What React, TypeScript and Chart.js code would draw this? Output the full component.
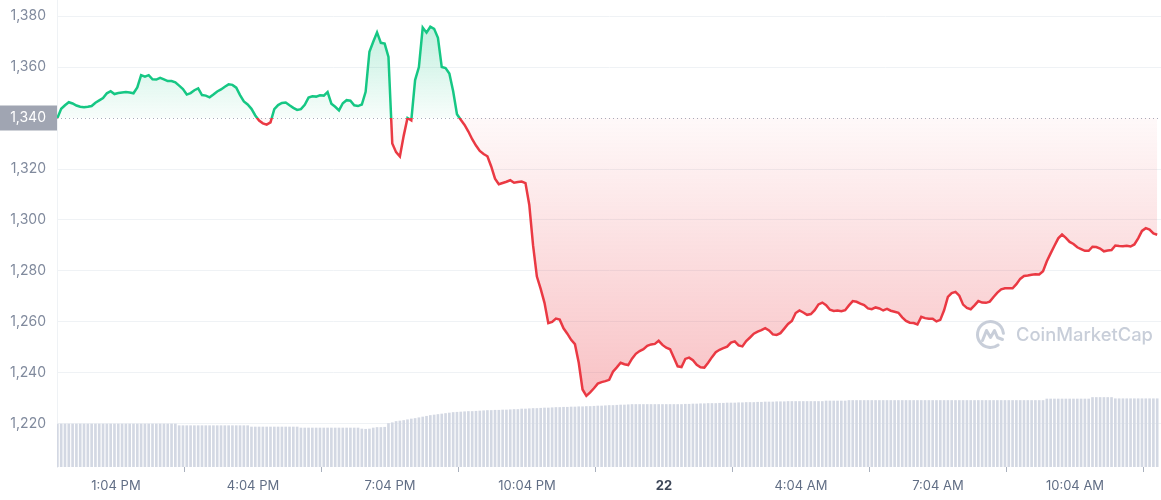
import React, { useEffect, useRef } from 'react';
import { Chart, registerables } from 'chart.js';

Chart.register(...registerables);

// ---- data ----
const START_MINUTE = 707; // 11:47 AM (minutes since midnight of the 21st)
const STEP_MINUTES = 5;
const BASE_PRICE = 1340;

const PRICES = [
  1340.0, 1343.6, 1345.0, 1346.2, 1345.7, 1344.9, 1344.4, 1344.2, 1344.4, 1344.7,
  1346.0, 1346.9, 1347.8, 1349.7, 1350.5, 1349.4, 1349.8, 1350.0, 1350.2, 1350.0,
  1349.7, 1352.0, 1356.8, 1356.2, 1356.8, 1355.2, 1355.1, 1355.8, 1355.2, 1354.5,
  1354.5, 1354.0, 1352.7, 1351.4, 1349.2, 1349.8, 1350.9, 1351.6, 1349.0, 1348.8,
  1348.1, 1349.2, 1350.4, 1351.2, 1352.3, 1353.2, 1353.0, 1351.9, 1349.0, 1346.5,
  1345.3, 1343.6, 1341.0, 1339.0, 1337.9, 1337.4, 1338.3, 1343.5, 1345.1, 1345.9,
  1346.1, 1345.0, 1344.0, 1343.2, 1343.5, 1345.2, 1348.0, 1348.5, 1348.4, 1348.9,
  1348.8, 1350.2, 1345.6, 1344.4, 1343.0, 1345.8, 1347.0, 1346.8, 1345.0, 1344.7,
  1345.3, 1350.3, 1366.0, 1369.9, 1373.6, 1369.5, 1369.2, 1364.0, 1330.0, 1326.6,
  1324.9, 1333.0, 1340.0, 1339.1, 1354.9, 1360.0, 1375.5, 1373.5, 1375.8, 1375.0,
  1371.5, 1360.0, 1359.6, 1357.5, 1350.5, 1341.5, 1339.3, 1337.3, 1334.7, 1331.7,
  1329.2, 1327.1, 1325.9, 1325.0, 1321.0, 1316.2, 1314.0, 1314.5, 1315.0, 1315.6,
  1314.6, 1314.9, 1315.1, 1314.5, 1306.0, 1290.0, 1277.8, 1273.0, 1267.5, 1259.5,
  1260.0, 1261.3, 1260.9, 1257.5, 1255.4, 1253.0, 1251.3, 1244.0, 1233.5, 1231.0,
  1232.4, 1234.0, 1235.8, 1236.4, 1236.8, 1237.3, 1240.5, 1242.2, 1244.0, 1243.4,
  1243.1, 1245.6, 1247.5, 1248.6, 1249.3, 1250.6, 1251.2, 1251.4, 1252.6, 1251.0,
  1249.9, 1249.3, 1246.0, 1242.6, 1242.3, 1245.5, 1246.0, 1245.0, 1243.2, 1242.2,
  1242.1, 1244.0, 1246.2, 1248.1, 1249.1, 1249.7, 1250.3, 1251.9, 1252.4, 1250.8,
  1250.4, 1252.5, 1253.9, 1255.4, 1256.2, 1256.8, 1257.6, 1256.7, 1255.1, 1254.9,
  1255.6, 1257.4, 1259.2, 1260.4, 1263.5, 1264.5, 1263.7, 1262.8, 1263.1, 1264.6,
  1266.9, 1267.6, 1266.6, 1264.8, 1264.3, 1264.5, 1264.2, 1264.6, 1266.5, 1268.2,
  1267.9, 1267.2, 1266.6, 1265.3, 1265.0, 1265.7, 1265.3, 1264.5, 1265.1, 1264.4,
  1264.0, 1263.6, 1261.8, 1260.4, 1259.7, 1259.6, 1259.0, 1262.0, 1261.5, 1261.3,
  1261.3, 1260.2, 1260.8, 1264.6, 1269.8, 1271.3, 1271.8, 1270.3, 1266.8, 1265.5,
  1265.0, 1266.5, 1268.2, 1267.6, 1267.5, 1268.0, 1269.8, 1271.5, 1272.8, 1273.2,
  1273.2, 1273.2, 1274.8, 1276.9, 1278.0, 1278.2, 1278.5, 1278.7, 1278.6, 1279.9,
  1283.8, 1286.9, 1289.9, 1292.8, 1294.3, 1293.0, 1291.4, 1290.6, 1289.3, 1288.6,
  1287.9, 1287.9, 1289.5, 1289.4, 1288.8, 1287.7, 1288.0, 1288.2, 1290.0, 1289.8,
  1289.7, 1289.9, 1289.6, 1290.4, 1292.8, 1295.7, 1296.8, 1296.2, 1294.7, 1294.2,
];

const VOLUMES = [
  8.6, 8.6, 8.6, 8.6, 8.6, 8.6, 8.6, 8.6, 8.6, 8.6,
  8.6, 8.6, 8.6, 8.6, 8.6, 8.6, 8.6, 8.6, 8.6, 8.6,
  8.6, 8.6, 8.6, 8.6, 8.6, 8.6, 8.6, 8.6, 8.6, 8.6,
  8.6, 8.6, 8.26, 8.26, 8.26, 8.26, 8.26, 8.26, 8.26, 8.26,
  8.26, 8.26, 8.26, 8.26, 8.26, 8.26, 8.26, 8.26, 8.26, 8.26,
  8.26, 8.0, 8.0, 8.0, 8.0, 8.0, 8.0, 8.0, 8.0, 8.0,
  8.0, 8.0, 8.0, 8.0, 7.8, 7.8, 7.8, 7.8, 7.8, 7.8,
  7.8, 7.8, 7.8, 7.8, 7.8, 7.8, 7.8, 7.8, 7.8, 7.8,
  7.6, 7.55, 7.6, 7.8, 7.9, 7.9, 7.95, 8.7, 8.85, 9.1,
  9.2, 9.3, 9.45, 9.6, 9.7, 9.85, 10.0, 10.15, 10.3, 10.4,
  10.5, 10.6, 10.7, 10.8, 10.9, 10.95, 11.0, 11.05, 11.1, 11.1,
  11.15, 11.2, 11.25, 11.3, 11.3, 11.35, 11.35, 11.4, 11.4, 11.45,
  11.5, 11.5, 11.6, 11.6, 11.65, 11.7, 11.7, 11.75, 11.8, 11.8,
  11.85, 11.9, 11.9, 11.95, 11.95, 12.0, 12.0, 12.05, 12.05, 12.1,
  12.1, 12.15, 12.2, 12.2, 12.25, 12.3, 12.3, 12.35, 12.4, 12.4,
  12.45, 12.5, 12.5, 12.5, 12.5, 12.5, 12.5, 12.5, 12.5, 12.5,
  12.5, 12.5, 12.5, 12.5, 12.5, 12.55, 12.55, 12.6, 12.6, 12.65,
  12.65, 12.7, 12.7, 12.7, 12.75, 12.75, 12.8, 12.8, 12.8, 12.85,
  12.85, 12.9, 12.9, 12.9, 12.95, 12.95, 13.0, 13.0, 13.0, 13.05,
  13.05, 13.05, 13.1, 13.1, 13.1, 13.1, 13.1, 13.1, 13.1, 13.1,
  13.1, 13.1, 13.2, 13.2, 13.2, 13.2, 13.2, 13.2, 13.3, 13.3,
  13.3, 13.3, 13.3, 13.3, 13.3, 13.3, 13.3, 13.3, 13.3, 13.3,
  13.3, 13.3, 13.3, 13.3, 13.3, 13.3, 13.3, 13.3, 13.3, 13.3,
  13.3, 13.3, 13.3, 13.3, 13.3, 13.3, 13.3, 13.3, 13.3, 13.3,
  13.3, 13.3, 13.3, 13.3, 13.3, 13.3, 13.3, 13.3, 13.3, 13.3,
  13.3, 13.3, 13.3, 13.3, 13.3, 13.3, 13.3, 13.3, 13.3, 13.3,
  13.6, 13.6, 13.6, 13.6, 13.6, 13.6, 13.6, 13.6, 13.6, 13.6,
  13.6, 13.6, 13.9, 13.9, 13.9, 13.9, 13.9, 13.9, 13.65, 13.65,
  13.65, 13.65, 13.65, 13.65, 13.65, 13.65, 13.65, 13.65, 13.65, 13.65,
];

const Y_TICKS = [1220, 1240, 1260, 1280, 1300, 1320, 1340, 1360, 1380];
const X_TICK_MINUTES = [784, 964, 1144, 1324, 1504, 1684, 1864, 2044];
const X_TICK_LABELS = ['1:04 PM', '4:04 PM', '7:04 PM', '10:04 PM', '22', '4:04 AM', '7:04 AM', '10:04 AM'];

// ---- axis ranges / styles ----
const X_MIN = 706.5;
const X_MAX = 2157;
const Y_MIN = 1203.1;
const Y_MAX = 1386.3;
const VOL_MAX = 93.4;

const GREEN = '#16c784';
const RED = '#ea3943';
const FONT = 'Inter, "Noto Sans", sans-serif';

const priceData = PRICES.map((p, i) => ({ x: START_MINUTE + i * STEP_MINUTES, y: p }));
const volumeData = VOLUMES.map((v, i) => ({ x: START_MINUTE + i * STEP_MINUTES, y: v }));

function clamp01(v: number) {
  return Math.max(0, Math.min(1, v));
}

function lineGradient(c: any) {
  const chart = c.chart;
  const area = chart.chartArea;
  if (!area || !chart.scales.y) return GREEN;
  const h = area.bottom - area.top;
  const f = clamp01((chart.scales.y.getPixelForValue(BASE_PRICE) - area.top) / h);
  const g = chart.ctx.createLinearGradient(0, area.top, 0, area.bottom);
  g.addColorStop(0, GREEN);
  g.addColorStop(f, GREEN);
  g.addColorStop(f, RED);
  g.addColorStop(1, RED);
  return g;
}

function fillGradient(c: any) {
  const chart = c.chart;
  const area = chart.chartArea;
  if (!area || !chart.scales.y) return 'rgba(0,0,0,0)';
  const y = chart.scales.y;
  const h = area.bottom - area.top;
  const f = clamp01((y.getPixelForValue(BASE_PRICE) - area.top) / h);
  const hi = clamp01((y.getPixelForValue(Math.max(...PRICES)) - area.top) / h);
  const lo = clamp01((y.getPixelForValue(Math.min(...PRICES)) - area.top) / h);
  const g = chart.ctx.createLinearGradient(0, area.top, 0, area.bottom);
  g.addColorStop(0, 'rgba(22,199,132,0.28)');
  g.addColorStop(hi, 'rgba(22,199,132,0.26)');
  g.addColorStop(f, 'rgba(22,199,132,0.03)');
  g.addColorStop(f, 'rgba(234,57,67,0.03)');
  g.addColorStop(lo, 'rgba(234,57,67,0.31)');
  g.addColorStop(1, 'rgba(234,57,67,0.31)');
  return g;
}

const decorPlugin = {
  id: 'decor',
  beforeDraw(chart: any) {
    const { ctx, chartArea, scales } = chart;
    const yb = scales.y.getPixelForValue(BASE_PRICE);
    ctx.save();
    ctx.fillStyle = '#a0a5b2';
    ctx.fillRect(0, Math.round(yb) - 12.5, chartArea.left, 25);
    ctx.restore();
  },
  beforeDatasetsDraw(chart: any) {
    const { ctx, chartArea, scales } = chart;
    const yb = Math.round(scales.y.getPixelForValue(BASE_PRICE)) + 0.5;
    ctx.save();
    ctx.strokeStyle = '#a7adba';
    ctx.lineWidth = 1;
    ctx.setLineDash([1, 3]);
    ctx.beginPath();
    ctx.moveTo(chartArea.left, yb);
    ctx.lineTo(chartArea.right, yb);
    ctx.stroke();
    ctx.setLineDash([]);

    // watermark
    const cx = chartArea.right - 170.5;
    const cy = chartArea.top + 334.5;
    const col = 'rgba(190,197,210,0.85)';
    ctx.strokeStyle = col;
    ctx.lineWidth = 3;
    ctx.lineCap = 'round';
    ctx.lineJoin = 'round';
    ctx.beginPath();
    ctx.arc(cx, cy, 13, 0.3 * Math.PI, 1.97 * Math.PI);
    ctx.stroke();
    ctx.beginPath();
    ctx.moveTo(cx - 8, cy + 6);
    ctx.lineTo(cx - 4, cy - 4);
    ctx.lineTo(cx, cy + 3);
    ctx.lineTo(cx + 4, cy - 4);
    ctx.lineTo(cx + 7, cy + 3);
    ctx.lineTo(cx + 12, cy + 5);
    ctx.stroke();
    ctx.fillStyle = col;
    ctx.textBaseline = 'middle';
    ctx.textAlign = 'left';
    ctx.font = '500 21px ' + FONT;
    const w = ctx.measureText('CoinMarketCap').width;
    const size = (21 * 137) / w;
    ctx.font = '500 ' + size.toFixed(2) + 'px ' + FONT;
    ctx.fillText('CoinMarketCap', chartArea.right - 145, cy + 1);
    ctx.restore();
  },
};

export default function App() {
  const ref = useRef<HTMLCanvasElement>(null);

  useEffect(() => {
    if (!ref.current) return;
    const chart = new Chart(ref.current, {
      type: 'line',
      data: {
        datasets: [
          {
            type: 'line',
            label: 'Price',
            data: priceData,
            yAxisID: 'y',
            xAxisID: 'x',
            borderColor: lineGradient,
            backgroundColor: fillGradient,
            borderWidth: 2.5,
            pointRadius: 0,
            pointHoverRadius: 0,
            tension: 0,
            fill: { value: BASE_PRICE },
            order: 0,
          } as any,
          {
            type: 'bar',
            label: 'Volume',
            data: volumeData,
            yAxisID: 'vol',
            xAxisID: 'x',
            backgroundColor: '#d3d8e3',
            barThickness: 2,
            order: 1,
          } as any,
        ],
      },
      options: {
        animation: false,
        responsive: true,
        maintainAspectRatio: false,
        layout: { padding: 0 },
        plugins: {
          legend: { display: false },
          tooltip: { enabled: false },
        },
        scales: {
          x: {
            type: 'linear',
            min: X_MIN,
            max: X_MAX,
            offset: false,
            afterBuildTicks: (scale: any) => {
              scale.ticks = X_TICK_MINUTES.map((v) => ({ value: v }));
            },
            afterFit: (scale: any) => {
              scale.height = 33;
              scale.paddingLeft = 0;
              scale.paddingRight = 0;
            },
            grid: {
              display: true,
              drawOnChartArea: false,
              drawTicks: true,
              tickLength: 5,
              tickColor: '#a9b0bd',
            },
            border: { display: false },
            ticks: {
              autoSkip: false,
              maxRotation: 0,
              padding: 6,
              callback: (_v: any, i: number) => X_TICK_LABELS[i],
              color: (c: any) => (X_TICK_LABELS[c.index] === '22' ? '#3d4658' : '#616e85'),
              font: (c: any) => ({
                family: FONT,
                size: 13,
                weight: X_TICK_LABELS[c.index] === '22' ? '700' : '400',
              }),
            },
          },
          y: {
            type: 'linear',
            position: 'left',
            min: Y_MIN,
            max: Y_MAX,
            afterBuildTicks: (scale: any) => {
              scale.ticks = Y_TICKS.map((v) => ({ value: v }));
            },
            afterFit: (scale: any) => {
              scale.width = 57;
              scale.paddingTop = 0;
              scale.paddingBottom = 0;
            },
            grid: {
              drawTicks: false,
              color: (c: any) => (c.tick && c.tick.value === BASE_PRICE ? 'rgba(0,0,0,0)' : '#eff2f5'),
              lineWidth: 1,
            },
            border: { display: true, color: '#eff2f5' },
            ticks: {
              padding: 11,
              callback: (v: any) => Number(v).toLocaleString('en-US'),
              color: (c: any) => (c.tick && c.tick.value === BASE_PRICE ? '#ffffff' : '#808a9d'),
              font: { family: FONT, size: 14 },
            },
          },
          vol: {
            type: 'linear',
            position: 'right',
            display: false,
            min: 0,
            max: VOL_MAX,
          },
        },
      },
      plugins: [decorPlugin],
    });
    return () => chart.destroy();
  }, []);

  return (
    <div style={{ position: 'fixed', left: 0, top: 0, width: 1161, height: 500, background: '#ffffff' }}>
      <canvas ref={ref} />
    </div>
  );
}
